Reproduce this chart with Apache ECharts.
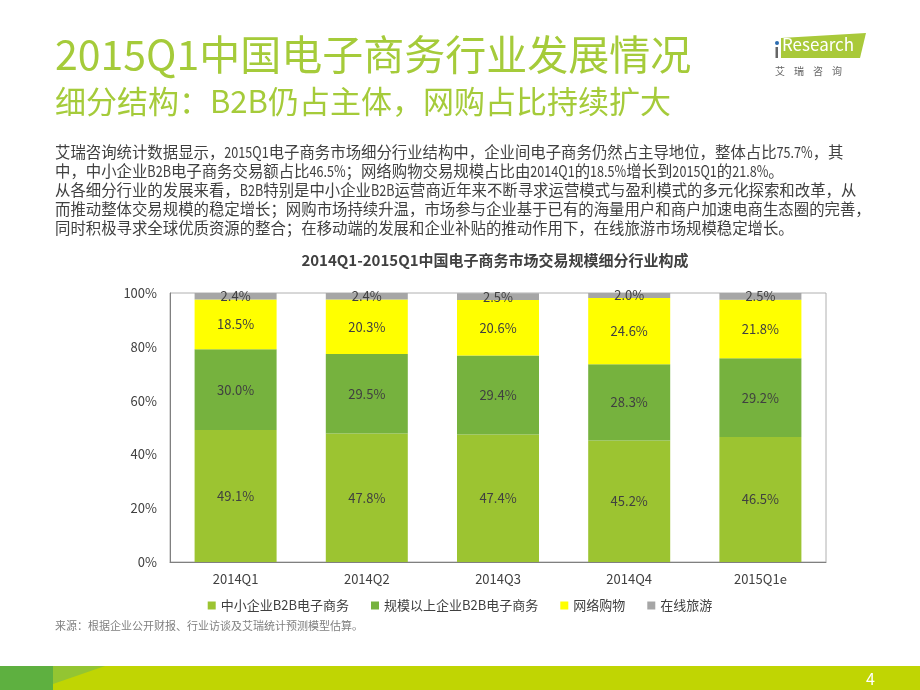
<!DOCTYPE html>
<html><head><meta charset="utf-8">
<script src="https://cdn.jsdelivr.net/npm/echarts@6/dist/echarts.min.js"></script>
<style>html,body{margin:0;padding:0;background:#fff}#c{width:920px;height:690px}</style>
</head><body><div id="c"></div>
<script>
var categories = ['2014Q1','2014Q2','2014Q3','2014Q4','2015Q1e'];
var smeB2B = [49.1, 47.8, 47.4, 45.2, 46.5];
var largeB2B = [30.0, 29.5, 29.4, 28.3, 29.2];
var onlineShopping = [18.5, 20.3, 20.6, 24.6, 21.8];
var onlineTravel = [2.4, 2.4, 2.5, 2.0, 2.5];
var seriesNames = ['中小企业B2B电子商务','规模以上企业B2B电子商务','网络购物','在线旅游'];
var yTicks = [0, 20, 40, 60, 80, 100];

var FONT = '"Noto Sans CJK SC","Noto Sans",sans-serif';
var bodyLines = [
 '艾瑞咨询统计数据显示，2015Q1电子商务市场细分行业结构中，企业间电子商务仍然占主导地位，整体占比75.7%，其',
 '中，中小企业B2B电子商务交易额占比46.5%；网络购物交易规模占比由2014Q1的18.5%增长到2015Q1的21.8%。',
 '从各细分行业的发展来看，B2B特别是中小企业B2B运营商近年来不断寻求运营模式与盈利模式的多元化探索和改革，从',
 '而推动整体交易规模的稳定增长；网购市场持续升温，市场参与企业基于已有的海量用户和商户加速电商生态圈的完善，',
 '同时积极寻求全球优质资源的整合；在移动端的发展和企业补贴的推动作用下，在线旅游市场规模稳定增长。'
];
var graphics = [
 {type:'text', left:55, top:34, style:{text:'2015Q1中国电子商务行业发展情况', font:'41px '+FONT, fill:'#a5cb3a'}},
 {type:'text', left:55, top:86, style:{text:'细分结构：B2B仍占主体，网购占比持续扩大', font:'31px '+FONT, fill:'#a5cb3a'}},
 {type:'text', style:{x:495, y:253, text:'2014Q1-2015Q1中国电子商务市场交易规模细分行业构成', font:'bold 15px '+FONT, fill:'#404040', align:'center'}},
 {type:'text', left:55, top:620, style:{text:'来源：根据企业公开财报、行业访谈及艾瑞统计预测模型估算。', font:'11px '+FONT, fill:'#7f7f7f'}},
 {type:'rect', shape:{x:0,y:666,width:920,height:24}, style:{fill:'#c0d503'}},
 {type:'rect', shape:{x:0,y:666,width:53,height:24}, style:{fill:'#5eb040'}},
 {type:'polygon', shape:{points:[[53,666],[105,666],[53,684]]}, style:{fill:'#93c532'}},
 {type:'text', left:866, top:671, style:{text:'4', font:'16px '+FONT, fill:'#fff'}},
 {type:'polygon', shape:{points:[[781,38],[866,33],[860,58],[781,58]]}, style:{fill:'#a9c93a'}},
 {type:'rect', shape:{x:775.5,y:47,width:2.5,height:11}, style:{fill:'#666'}},
 {type:'circle', shape:{cx:777, cy:43, r:2}, style:{fill:'#2b6cb0'}},
 {type:'text', left:782, top:36, style:{text:'Research', font:'17px '+FONT, fill:'#fff'}},
 {type:'text', left:775, top:66, style:{text:'艾    瑞    咨    询', font:'10px '+FONT, fill:'#666'}}
];

// body text: CJK at 15.4px, latin runs slightly condensed like the reference
var BODY_FONT = '15.4px ' + FONT;
var LATIN_SCALE = 0.82;
var mctx = document.createElement('canvas').getContext('2d');
mctx.font = BODY_FONT;
bodyLines.forEach(function(line, i){
  var runs = line.match(/[\x00-\x7f]+|[^\x00-\x7f]+/g);
  var x = 55, y = 144 + i*19;
  runs.forEach(function(r){
    var latin = /^[\x00-\x7f]/.test(r);
    var w = mctx.measureText(r).width * (latin ? LATIN_SCALE : 1);
    graphics.push({type:'text', x:x, y:y, scaleX: latin ? LATIN_SCALE : 1,
      style:{text:r, font:BODY_FONT, fill:'#404040', textVerticalAlign:'top'}});
    x += w;
  });
});

var colors = ['#9cc431','#76b23e','#ffff00','#a6a6a6'];
var dataArr = [smeB2B, largeB2B, onlineShopping, onlineTravel];
var series = dataArr.map(function(d,i){
  return {name:seriesNames[i], type:'bar', stack:'t', data:d, barWidth:'62.5%',
    itemStyle:{color:colors[i]},
    label:{show:true, position:'inside', formatter:function(p){return p.value.toFixed(1)+'%';}, color:'#404040', fontSize:13, fontFamily:FONT}};
});

var chart = echarts.init(document.getElementById('c'));
chart.setOption({
  animation:false,
  textStyle:{fontFamily:FONT},
  graphic:graphics,
  grid:{left:170, right:94, top:293, bottom:128, show:true, borderColor:'#b0b0b0', borderWidth:1},
  legend:{top:594, left:'center', itemWidth:8, itemHeight:8, itemGap:22, icon:'rect',
    textStyle:{fontSize:13, color:'#404040', fontFamily:FONT}, data:seriesNames},
  xAxis:{type:'category', data:categories, axisTick:{show:false}, axisLine:{lineStyle:{color:'#808080'}},
    axisLabel:{color:'#404040', fontSize:13, margin:11}},
  yAxis:{type:'value', min:yTicks[0], max:yTicks[yTicks.length-1], interval:20, splitLine:{show:false},
    axisLine:{show:true, lineStyle:{color:'#808080'}}, axisTick:{show:false},
    axisLabel:{formatter:'{value}%', color:'#404040', fontSize:13, margin:13}},
  series:series
});
</script></body></html>
